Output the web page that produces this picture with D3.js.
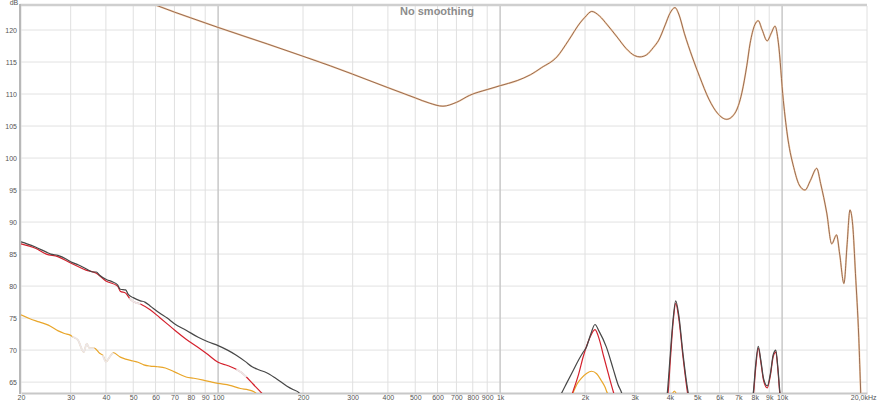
<!DOCTYPE html>
<html><head><meta charset="utf-8">
<script src="https://cdn.jsdelivr.net/npm/d3@7"></script>
<style>body{margin:0;background:#fff}svg{display:block}</style>
</head><body>
<script>
// ---------- DATA ----------
const xTickValues = [20,30,40,50,60,70,80,90,100,200,300,400,500,600,700,800,900,1000,2000,3000,4000,5000,6000,7000,8000,9000,10000,20000];
const xTickLabels = ["20","30","40","50","60","70","80","90","100","200","300","400","500","600","700","800","900","1k","2k","3k","4k","5k","6k","7k","8k","9k","10k","20,0kHz"];
const yTickValues = [65,70,75,80,85,90,95,100,105,110,115,120];
const majorFreqs = [100,1000,10000];

// main response (Hz, dB)
const mainFreq = [20,30,40,50,60,70,80,100,150,200,250,300,400,500,560,627,700,780,900,1000,1150,1280,1400,1590,1750,1920,2000,2113,2250,2400,2600,2800,3000,3133,3300,3500,3650,3850,4000,4170,4300,4500,4800,5100,5500,5900,6360,6800,7200,7500,7700,8000,8230,8500,8850,9150,9440,9700,10100,10500,11000,11500,12060,12600,13270,13700,14400,14990,15600,16000,16570,17000,17400,17800,18200,18700,19000,19300];
const mainDb   = [131.5,128.7,126.6,125.1,123.9,122.8,121.9,120.4,117.8,115.9,114.4,113.1,111.0,109.4,108.6,108.1,108.7,109.8,110.7,111.3,112.1,113.0,114.1,115.8,118.4,121.1,122.0,122.9,122.2,120.8,118.9,117.1,116.0,115.8,116.1,117.3,118.4,120.8,122.6,123.5,122.5,119.5,115.8,112.7,109.2,107.0,106.05,107.0,110.2,114.5,117.9,120.8,121.45,120.0,118.3,119.5,120.6,118.0,109.0,102.8,98.5,95.8,95.0,96.5,98.4,96.0,91.4,86.6,88.0,85.0,80.4,86.5,91.9,89.5,82.0,72.0,63.3,55.0];

// harmonic traces (null = below the view, gap)
const darkFreq = [20,21,22.5,24.6,25.5,27,29,30,32,34,36,37,38,40.3,42,44,45,47,48,50,53,55,57.4,62,66,70,77,85,92,100,108,116,125,132,140,148,160,175,185,193,200,
  1000,1600,1653,1720,1820,1900,1972,2020,2100,2170,2240,2380,2520,2620,2698,2750,
  3300,3900,3917,4000,4100,4195,4300,4450,4600,4648,4700,
  6000,7850,7900,8050,8230,8400,8600,8860,9100,9300,9500,9650,9830,9900];
const darkDb = [86.9,86.6,86.1,85.3,85.0,84.8,84.2,83.8,83.3,82.7,82.2,82.2,81.7,81.0,80.7,80.2,79.5,79.4,78.7,78.2,77.7,77.5,76.9,75.8,75.0,74.1,73.1,72.0,71.3,70.7,70.0,69.2,68.2,67.4,66.9,66.5,65.6,64.4,63.8,63.4,62.5,
  null,62.0,63.3,64.8,66.9,68.5,69.7,70.4,72.6,74.0,73.0,70.5,67.0,64.6,63.3,62.0,
  null,62.5,63.3,68.5,74.5,77.7,75.5,69.5,64.5,63.3,62.3,
  null,62.5,63.3,67.5,70.6,68.5,65.5,64.4,66.5,69.3,70.0,67.5,63.3,62.3];

const redFreq = [20,22.5,24.6,27,30,34,37,40,44,45,47,48.5,50,53,57.4,62,66,70.2,77,85,92,100,108,116,121,126,133,142,148,
  1000,1780,1820,1900,1972,2070,2170,2250,2330,2430,2520,2560,
  3300,3920,3940,4020,4110,4195,4300,4450,4580,4630,
  6000,7880,7920,8060,8230,8400,8600,8860,9100,9300,9500,9650,9810,9880];
const redDb = [86.6,85.9,85.0,84.6,83.6,82.5,82.0,80.8,80.0,79.2,78.9,78.1,77.6,77.2,76.3,75.1,74.1,73.1,71.7,70.4,69.3,68.1,67.6,67.0,66.5,65.8,64.7,63.4,62.5,
  null,62.5,63.75,66.3,69.0,71.7,73.2,71.6,69.0,66.0,63.5,62.5,
  null,62.5,63.3,68.8,74.5,77.3,75.0,69.0,64.5,63.0,
  null,62.5,63.3,67.2,70.3,68.2,65.2,64.1,66.2,69.0,69.7,67.2,63.3,62.3];

const orangeFreq = [20,21.5,23.2,25,27.1,28.5,30,30.4,31.8,33.4,34.2,35,36.4,38,39,40,41.5,42.5,45,47,50,52,54.5,57.4,61,65,70,77,82,88.6,95,100,110,120,128,134,140,
  1000,1800,1820,1880,1940,2020,2110,2200,2280,2350,2400,2430,
  3300,4050,4150,4250];
const orangeDb = [75.5,74.9,74.4,73.9,73.0,72.6,72.3,72.1,71.6,69.7,71.0,70.3,70.3,69.5,69.2,68.2,69.1,69.6,68.9,68.6,68.3,68.1,67.7,67.5,67.4,67.2,66.6,65.8,65.6,65.3,65.0,64.8,64.5,64.0,63.8,63.5,62.8,
  null,63.0,63.5,64.8,65.6,66.3,66.7,66.3,65.3,64.3,63.3,62.8,
  null,62.8,63.6,62.8];

// faded (light) stretches of the traces, Hz ranges
const redFaded = [[48.5,53],[116,126]];
const orangeFaded = [[30.4,36.4],[39,42.5]];

// ---------- CHART ----------
const W = 877, H = 403;
const FONT = "Liberation Sans, Arial, sans-serif";
const svg = d3.select("body").append("svg").attr("width", W).attr("height", H);
const x = d3.scaleLog().domain([20, 20000]).range([21, 867]);
const y = d3.scaleLinear().domain([63.3, 123.75]).range([393, 6]);

svg.append("defs").append("clipPath").attr("id","plot")
  .append("rect").attr("x",21).attr("y",6).attr("width",846).attr("height",387);

// horizontal grid
svg.append("g").selectAll("line").data(yTickValues).join("line")
  .attr("x1",21).attr("x2",867).attr("y1",d=>y(d)).attr("y2",d=>y(d))
  .attr("stroke","#e2e2e2").attr("stroke-width",1);
// vertical grid
svg.append("g").selectAll("line").data(xTickValues).join("line")
  .attr("x1",d=>x(d)).attr("x2",d=>x(d)).attr("y1",6).attr("y2",393)
  .attr("stroke",d=>majorFreqs.includes(d)?"#c8c8c8":"#e0e0e0")
  .attr("stroke-width",d=>majorFreqs.includes(d)?1.5:1);

// frame
svg.append("line").attr("x1",20).attr("x2",867).attr("y1",5).attr("y2",5).attr("stroke","#cfcfcf").attr("stroke-width",2.5);
svg.append("line").attr("x1",20).attr("x2",20).attr("y1",4).attr("y2",394).attr("stroke","#b8b8b8").attr("stroke-width",2);

// axes
const xAxis = d3.axisBottom(x).tickValues(xTickValues)
  .tickFormat((d,i)=>xTickLabels[i]).tickSize(0).tickPadding(2);
const gx = svg.append("g").attr("transform","translate(0,393)").call(xAxis);
gx.select(".domain").attr("stroke","#c8c8c8").attr("stroke-width",2);
gx.selectAll("text").attr("font-family",FONT).attr("font-size",7).attr("fill","#555");
gx.selectAll(".tick").filter(d=>d===20000).select("text").attr("text-anchor","end").attr("dx",9);

const yAxis = d3.axisLeft(y).tickValues(yTickValues).tickSize(0).tickPadding(3);
const gy = svg.append("g").attr("transform","translate(20,0)").call(yAxis);
gy.select(".domain").remove();
gy.selectAll("text").attr("font-family",FONT).attr("font-size",7).attr("fill","#555");

svg.append("text").attr("x",14).attr("y",5).attr("text-anchor","middle")
  .attr("font-family",FONT).attr("font-size",7).attr("fill","#555").text("dB");

svg.append("text").attr("x",437).attr("y",15).attr("text-anchor","middle")
  .attr("font-family",FONT).attr("font-weight","bold")
  .attr("font-size",11).attr("fill","#8c8c8c").text("No smoothing");

// lines
const plot = svg.append("g").attr("clip-path","url(#plot)");
const line = d3.line().defined(d=>d[1]!==null).x(d=>x(d[0])).y(d=>y(d[1])).curve(d3.curveMonotoneX);
const zip = (f,v)=>f.map((d,i)=>[d,v[i]]);

function drawTrace(f, v, color, faded){
  const pts = zip(f,v);
  plot.append("path").datum(pts).attr("d",line).attr("fill","none")
    .attr("stroke",color).attr("stroke-width",1.2).attr("stroke-linejoin","round");
  (faded||[]).forEach(r=>{
    const seg = pts.filter(p=>p[0]>=r[0]&&p[0]<=r[1]);
    plot.append("path").datum(seg).attr("d",line).attr("fill","none")
      .attr("stroke","#ece6e6").attr("stroke-width",2);
  });
}
drawTrace(orangeFreq, orangeDb, "#e9a62a", orangeFaded);
drawTrace(redFreq, redDb, "#d4202c", redFaded);
drawTrace(darkFreq, darkDb, "#474747", []);

const mainPts = zip(mainFreq, mainDb);
plot.append("path").datum(mainPts).attr("d",line).attr("fill","none")
  .attr("stroke","#f5d2b0").attr("stroke-width",1.8);
plot.append("path").datum(mainPts).attr("d",line).attr("fill","none")
  .attr("stroke","#8f6046").attr("stroke-width",0.9);
</script>
</body></html>
